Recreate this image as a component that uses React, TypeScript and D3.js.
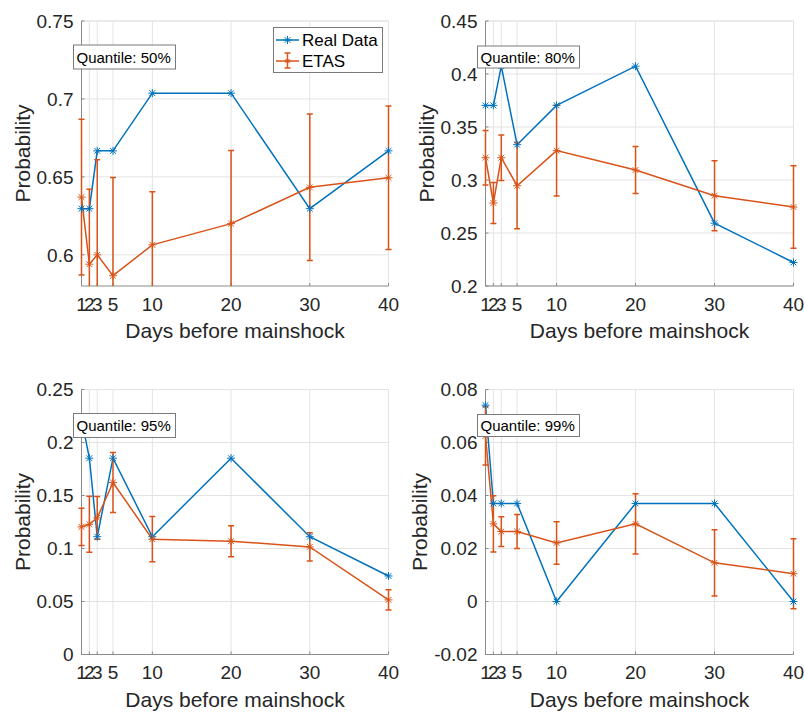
import React from "react";
import * as d3 from "d3";

const days = [1, 2, 3, 5, 10, 20, 30, 40];
const xTickLabels = ["1", "2", "3", "5", "10", "20", "30", "40"];

const quantiles = ["50%", "80%", "95%", "99%"];

const real50 = [0.6296, 0.6296, 0.6667, 0.6667, 0.7037, 0.7037, 0.6296, 0.6667];
const etas50 = [0.637, 0.594, 0.6, 0.5866, 0.6064, 0.62, 0.6433, 0.6494];
const err50 = [0.05, 0.048, 0.061, 0.063, 0.034, 0.047, 0.047, 0.046];

const real80 = [0.3704, 0.3704, 0.4074, 0.3333, 0.3704, 0.4074, 0.2593, 0.2222];
const etas80 = [0.321, 0.2783, 0.321, 0.2946, 0.3277, 0.3094, 0.2852, 0.2745];
const err80 = [0.0256, 0.0193, 0.0215, 0.0407, 0.0429, 0.0222, 0.033, 0.039];

const real95 = [0.2222, 0.1852, 0.1111, 0.1852, 0.1111, 0.1852, 0.1111, 0.0741];
const etas95 = [0.1204, 0.1229, 0.1289, 0.1623, 0.1088, 0.1069, 0.1015, 0.0515];
const err95 = [0.0175, 0.0265, 0.0201, 0.0283, 0.0214, 0.0146, 0.0133, 0.0095];

const real99 = [0.0741, 0.037, 0.037, 0.037, 0, 0.037, 0.037, 0];
const etas99 = [0.0625, 0.0293, 0.0264, 0.0264, 0.0221, 0.0293, 0.0146, 0.0105];
const err99 = [0.011, 0.0106, 0.0056, 0.0064, 0.008, 0.0114, 0.0125, 0.0132];

const yTicks50 = [0.6, 0.65, 0.7, 0.75];
const yTicks80 = [0.2, 0.25, 0.3, 0.35, 0.4, 0.45];
const yTicks95 = [0, 0.05, 0.1, 0.15, 0.2, 0.25];
const yTicks99 = [-0.02, 0, 0.02, 0.04, 0.06, 0.08];

const yTickLabels50 = ["0.6", "0.65", "0.7", "0.75"];
const yTickLabels80 = ["0.2", "0.25", "0.3", "0.35", "0.4", "0.45"];
const yTickLabels95 = ["0", "0.05", "0.1", "0.15", "0.2", "0.25"];
const yTickLabels99 = ["-0.02", "0", "0.02", "0.04", "0.06", "0.08"];

const yDomains: [number, number][] = [
  [0.58, 0.75],
  [0.2, 0.45],
  [0, 0.25],
  [-0.02, 0.08],
];

const BLUE = "#0072BD";
const ORANGE = "#D95319";
const TEXT = "#262626";
const AXIS = "#8a8a8a";
const GRID = "#e3e3e3";
const FONT = "Helvetica, 'Liberation Sans', Arial, sans-serif";

const panelsData = [
  { real: real50, etas: etas50, err: err50, ticks: yTicks50, labels: yTickLabels50 },
  { real: real80, etas: etas80, err: err80, ticks: yTicks80, labels: yTickLabels80 },
  { real: real95, etas: etas95, err: err95, ticks: yTicks95, labels: yTickLabels95 },
  { real: real99, etas: etas99, err: err99, ticks: yTicks99, labels: yTickLabels99 },
];

const layout = [
  { left: 81.5, top: 21, w: 307, h: 265, ylabX: 23, boxH: 24 },
  { left: 485.5, top: 21, w: 308, h: 265, ylabX: 427, boxH: 22 },
  { left: 81.5, top: 389.5, w: 307, h: 265, ylabX: 23, boxH: 24 },
  { left: 485.5, top: 389.5, w: 308, h: 265, ylabX: 420, boxH: 22 },
];

function star(cx: number, cy: number, r: number) {
  const d = r * 0.72;
  return `M${cx - r},${cy}H${cx + r}M${cx},${cy - r}V${cy + r}M${cx - d},${cy - d}L${cx + d},${cy + d}M${cx - d},${cy + d}L${cx + d},${cy - d}`;
}

function Panel({ idx }: { idx: number }) {
  const L = layout[idx];
  const P = panelsData[idx];
  const x = d3.scaleLinear().domain([1, 40]).range([L.left, L.left + L.w]);
  const y = d3.scaleLinear().domain(yDomains[idx]).range([L.top + L.h, L.top]);
  const line = d3
    .line<number>()
    .x((_, i) => x(days[i]))
    .y((v) => y(v));
  const clipId = `clip${idx}`;
  const bottom = L.top + L.h;
  const cap = 3;
  return (
    <g>
      <defs>
        <clipPath id={clipId}>
          <rect x={L.left - 20} y={L.top} width={L.w + 40} height={L.h} />
        </clipPath>
      </defs>
      {/* grid */}
      {days.map((d, i) => (
        <line key={"gx" + i} x1={x(d)} x2={x(d)} y1={L.top} y2={bottom} stroke={GRID} strokeWidth={1} />
      ))}
      {P.ticks.map((t, i) => (
        <line key={"gy" + i} x1={L.left} x2={L.left + L.w} y1={y(t)} y2={y(t)} stroke={GRID} strokeWidth={1} />
      ))}
      <line x1={L.left} x2={L.left + L.w} y1={L.top} y2={L.top} stroke={GRID} />
      <line x1={L.left + L.w} x2={L.left + L.w} y1={L.top} y2={bottom} stroke={GRID} />
      {/* axes */}
      <line x1={L.left} x2={L.left} y1={L.top} y2={bottom} stroke={AXIS} strokeWidth={1} />
      <line x1={L.left} x2={L.left + L.w} y1={bottom} y2={bottom} stroke={AXIS} strokeWidth={1} />
      {days.map((d, i) => (
        <line key={"tx" + i} x1={x(d)} x2={x(d)} y1={bottom} y2={bottom - 3} stroke={AXIS} />
      ))}
      {P.ticks.map((t, i) => (
        <line key={"ty" + i} x1={L.left} x2={L.left + 3} y1={y(t)} y2={y(t)} stroke={AXIS} />
      ))}
      {/* tick labels */}
      {days.map((d, i) => (
        <text key={"lx" + i} x={x(d)} y={bottom + 24.5} textAnchor="middle" fontSize={19} fill={TEXT} fontFamily={FONT}>
          {xTickLabels[i]}
        </text>
      ))}
      {P.ticks.map((t, i) => (
        <text key={"ly" + i} x={L.left - 8} y={y(t) + 6.8} textAnchor="end" fontSize={19} fill={TEXT} fontFamily={FONT}>
          {P.labels[i]}
        </text>
      ))}
      {/* axis labels */}
      <text x={L.left + L.w / 2} y={bottom + 52} textAnchor="middle" fontSize={21} fill={TEXT} fontFamily={FONT}>
        Days before mainshock
      </text>
      <text
        transform={`translate(${L.ylabX + 7},${L.top + L.h / 2}) rotate(-90)`}
        textAnchor="middle"
        fontSize={21}
        fill={TEXT}
        fontFamily={FONT}
      >
        Probability
      </text>
      {/* series */}
      <g clipPath={`url(#${clipId})`}>
        <path d={line(P.real) || ""} fill="none" stroke={BLUE} strokeWidth={1.5} />
        <path d={line(P.etas) || ""} fill="none" stroke={ORANGE} strokeWidth={1.5} />
        {P.etas.map((v, i) => {
          const cx = x(days[i]);
          const y1 = y(v + P.err[i]);
          const y0 = y(v - P.err[i]);
          return (
            <g key={"eb" + i} stroke={ORANGE} strokeWidth={1.5}>
              <line x1={cx} x2={cx} y1={y1} y2={y0} />
              <line x1={cx - cap} x2={cx + cap} y1={y1} y2={y1} />
              <line x1={cx - cap} x2={cx + cap} y1={y0} y2={y0} />
            </g>
          );
        })}
      </g>
      {P.real.map((v, i) => (
        <path key={"mr" + i} d={star(x(days[i]), y(v), 4)} stroke={BLUE} strokeWidth={1} fill="none" />
      ))}
      {P.etas.map((v, i) => (
        <path key={"me" + i} d={star(x(days[i]), y(v), 4)} stroke={ORANGE} strokeWidth={1} fill="none" />
      ))}
      {/* quantile annotation */}
      <g>
        <rect
          x={L.left - 8}
          y={L.top + 36 - L.boxH / 2}
          width={102}
          height={L.boxH}
          fill="white"
          stroke="#7a7a7a"
          strokeWidth={1}
        />
        <text x={L.left - 5} y={L.top + 41.5} fontSize={15} fill="#000" fontFamily={FONT}>
          {`Quantile: ${quantiles[idx]}`}
        </text>
      </g>
    </g>
  );
}

function Legend() {
  const lx = 273.5;
  const ly = 27.5;
  const r1 = 40;
  const r2 = 61;
  return (
    <g>
      <rect x={lx} y={ly} width={109} height={45} fill="white" stroke="#7a7a7a" strokeWidth={1} />
      <line x1={276} x2={299} y1={r1} y2={r1} stroke={BLUE} strokeWidth={1.5} />
      <path d={star(287.5, r1, 4)} stroke={BLUE} fill="none" />
      <text x={302} y={r1 + 6} fontSize={17} fill="#000" fontFamily={FONT}>
        Real Data
      </text>
      <line x1={276} x2={299} y1={r2} y2={r2} stroke={ORANGE} strokeWidth={1.5} />
      <g stroke={ORANGE} strokeWidth={1.5}>
        <line x1={287.5} x2={287.5} y1={r2 - 8} y2={r2 + 7} />
        <line x1={284.5} x2={290.5} y1={r2 - 8} y2={r2 - 8} />
        <line x1={284.5} x2={290.5} y1={r2 + 7} y2={r2 + 7} />
      </g>
      <path d={star(287.5, r2, 3)} stroke={ORANGE} fill="none" />
      <text x={302} y={r2 + 6} fontSize={17} fill="#000" fontFamily={FONT}>
        ETAS
      </text>
    </g>
  );
}

export default function App() {
  return (
    <div style={{ position: "absolute", left: 0, top: 0 }}>
      <svg width={805} height={712} style={{ display: "block", background: "white" }}>
        {[0, 1, 2, 3].map((i) => (
          <Panel key={i} idx={i} />
        ))}
        <Legend />
      </svg>
    </div>
  );
}
